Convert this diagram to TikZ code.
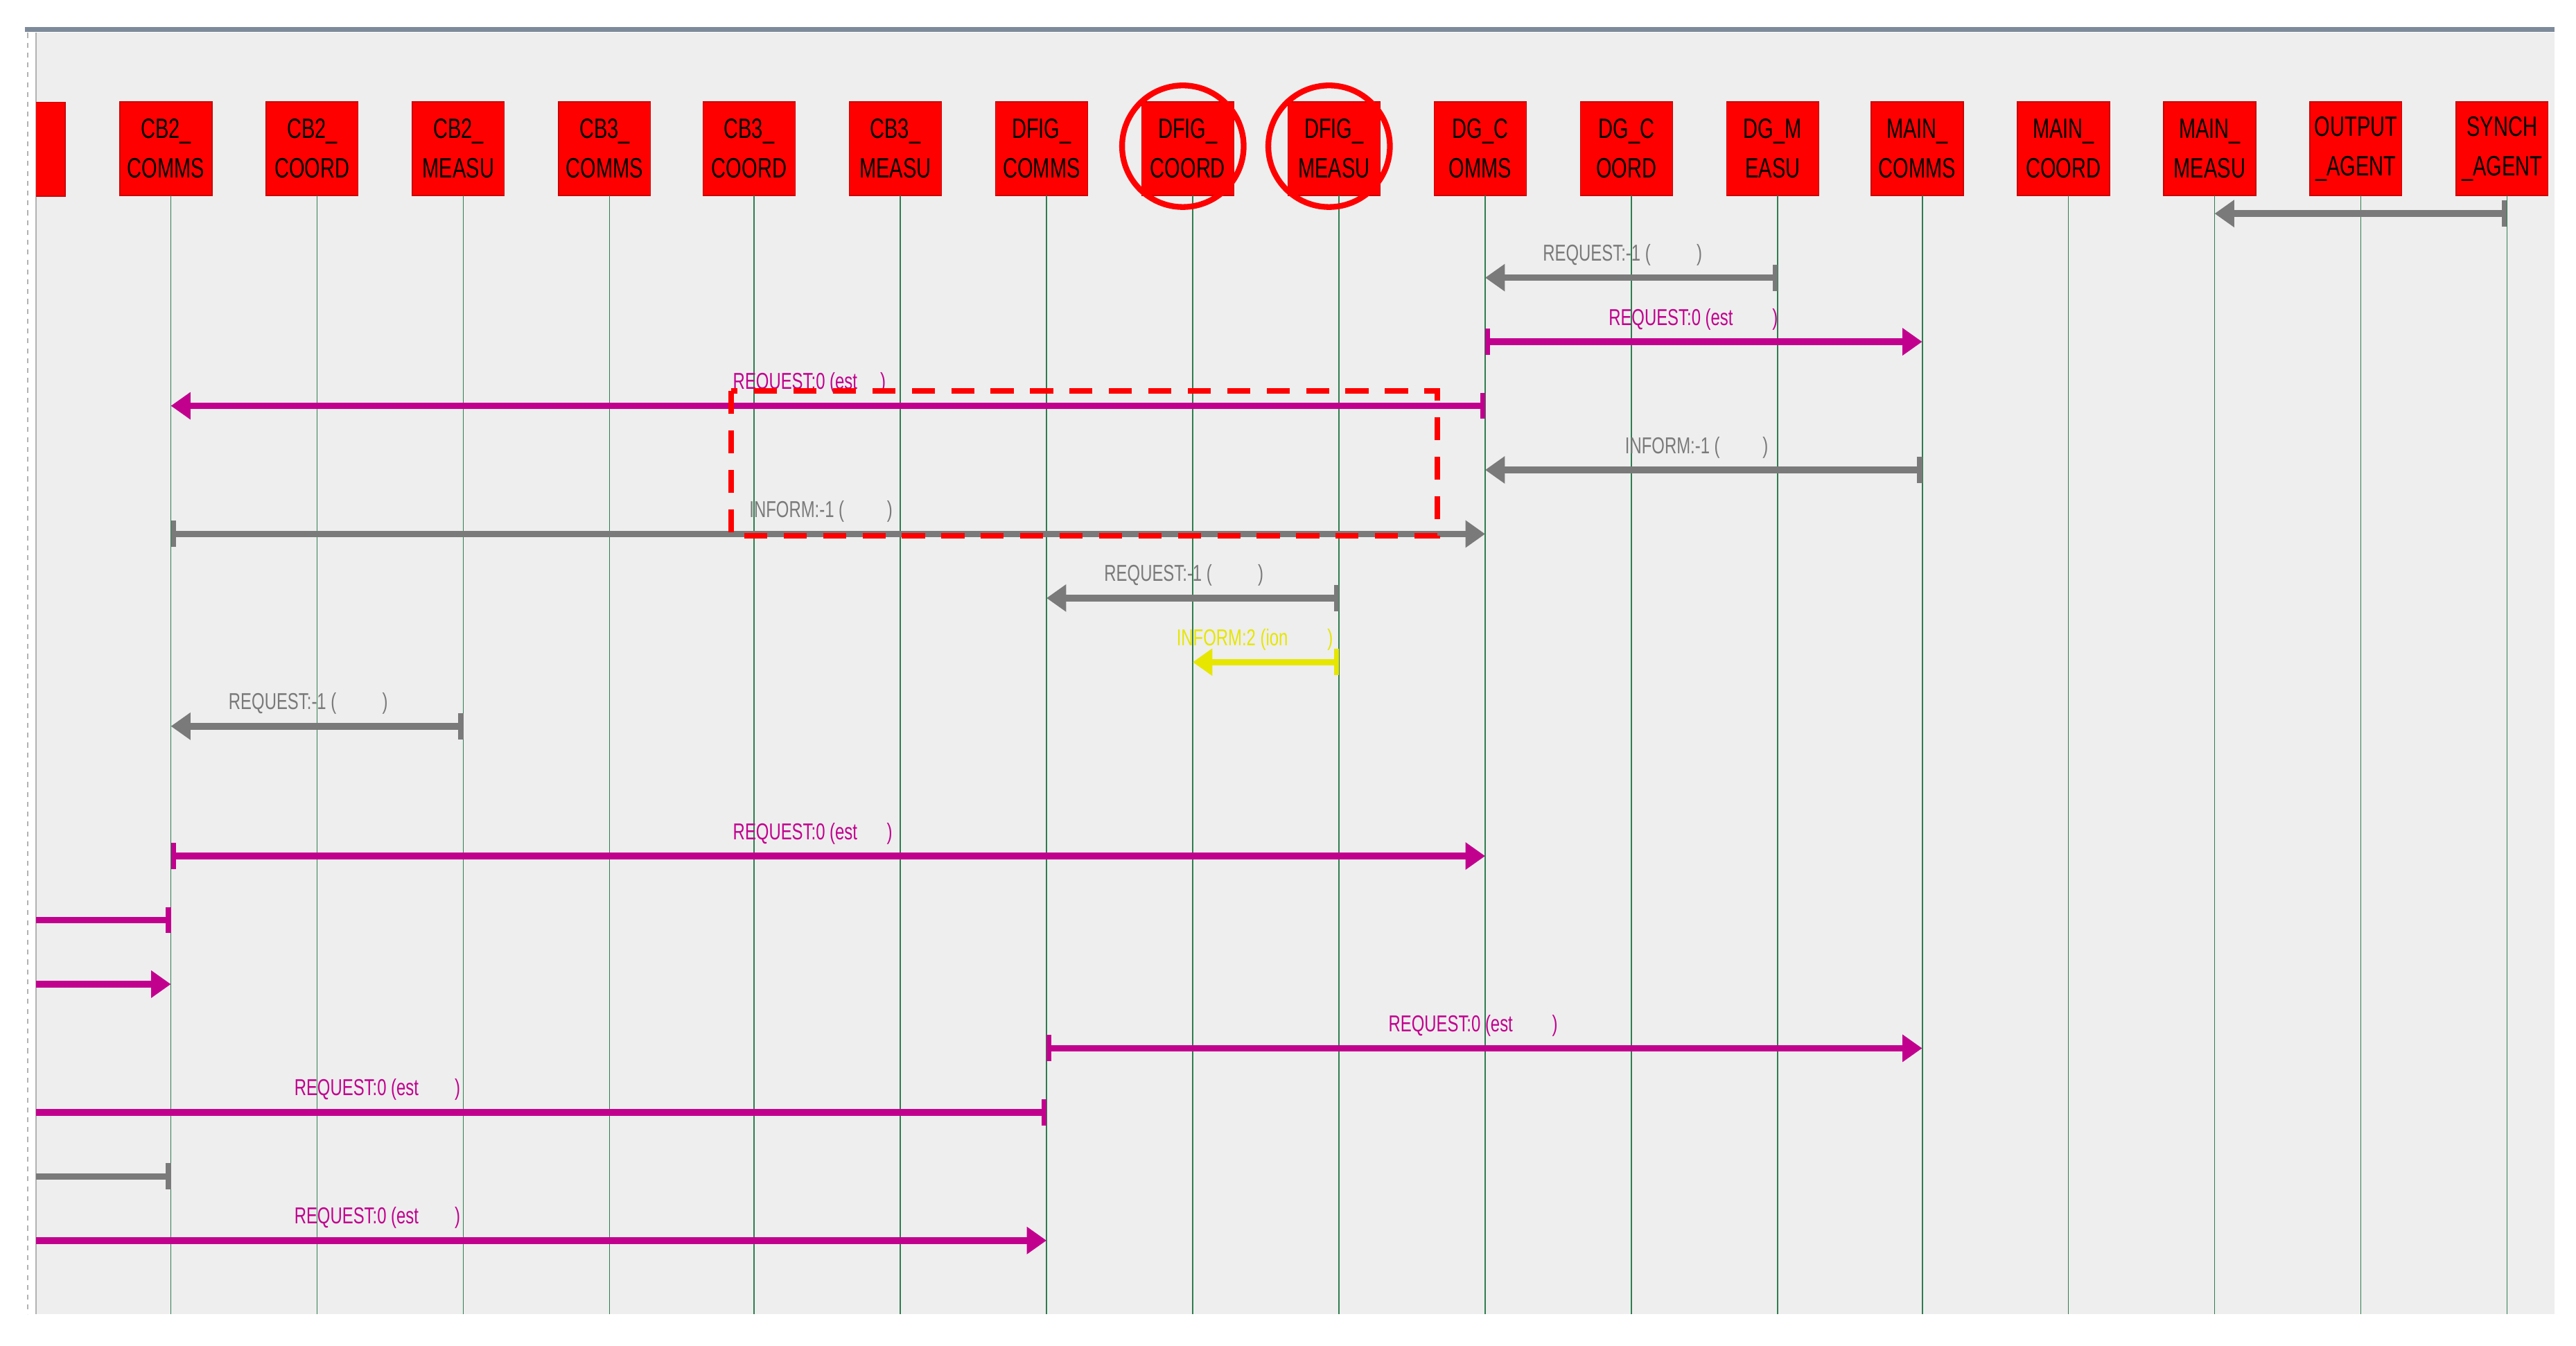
\documentclass[tikz,border=0pt]{standalone}
\usepackage{fontspec}
\setmainfont{Liberation Sans}
\newfontfamily\narrowf{Liberation Sans}[FakeStretch=0.72]
\usetikzlibrary{arrows.meta,shapes.geometric}
\definecolor{bgc}{HTML}{EEEEEE}
\definecolor{msgg}{HTML}{7A7A7A}
\definecolor{msgm}{HTML}{C2008E}
\definecolor{msgy}{HTML}{E6E600}
\definecolor{llc}{HTML}{2E7D4F}
\definecolor{frm}{HTML}{7D8A99}
\begin{document}
\begin{tikzpicture}[x=1pt,y=-1pt,
  box/.style={fill=red,draw=red!80!black,line width=0.6pt,minimum width=56pt,minimum height=57pt,inner sep=0pt,align=center,font=\narrowf\fontsize{17}{24}\selectfont},
  ll/.style={llc,line width=0.8pt},
  msg/.style={line width=4pt,-{Triangle[length=12pt,width=16pt]}},
  msgb/.style={line width=4pt,{Bar[width=16pt,line width=3pt]}-{Triangle[length=12pt,width=16pt]}},
  msgbo/.style={line width=4pt,{Bar[width=16pt,line width=3pt]}-},
  lab/.style={anchor=south west,inner sep=0pt,font=\narrowf\fontsize{14}{14}\selectfont},
  circ/.style={draw=red,line width=3.5pt,ellipse,minimum width=74pt,minimum height=74pt}]
\useasboundingbox (0,0) rectangle (1568,819);
\fill[white] (0,0) rectangle (1568,819);
\fill[bgc] (22,20) rectangle (1555,800);
\draw[frm,line width=3pt] (15,18) -- (1555,18);
\draw[gray!60,dashed,line width=1pt] (17,20) -- (17,800);
\draw[gray!60,line width=1pt] (22,20) -- (22,800);
\begin{scope}
\clip (22,20) rectangle (1555,800);
\node[box,anchor=north east] (P0) at (40,62) {\_\\U};
\end{scope}
\foreach \n/\t/\x in {CBa/CB2\_\\COMMS/104, CBb/CB2\_\\COORD/193, CBc/CB2\_\\MEASU/282,
  CCa/CB3\_\\COMMS/371, CCb/CB3\_\\COORD/459, CCc/CB3\_\\MEASU/548,
  DFa/DFIG\_\\COMMS/637, DFb/DFIG\_\\COORD/726, DFc/DFIG\_\\MEASU/815,
  DGa/DG\_C\\OMMS/904, DGb/DG\_C\\OORD/993, DGc/DG\_M\\EASU/1082,
  MNa/MAIN\_\\COMMS/1170, MNb/MAIN\_\\COORD/1259, MNc/MAIN\_\\MEASU/1348,
  OUT/OUTPUT\\\_AGENT/1437, SYN/SYNCH\\\_AGENT/1526}{
  \node[box] (\n) at (\x-3,90.5) {\t};
  \coordinate (\n-e) at (\x,800);
  \draw[ll] (\x,119) -- (\n-e);
}
\node[circ] (c1) at (720,89) {};
\node[circ] (c2) at (809,89) {};
\coordinate (LE) at (22,0);
\foreach \i/\y in {1/130,2/169,3/208,4/247,5/286,6/325,7/364,8/403,9/442,10/521,11/560,12/599,13/638,14/677,15/716,16/755}{\coordinate (m\i) at (0,\y);}
% messages
\draw[msgb,msgg] (SYN-e|-m1) -- (MNc-e|-m1);
\draw[msgb,msgg] (DGc-e|-m2) -- (DGa-e|-m2);
\node[lab,msgg] at (939,162) {REQUEST:-1 (\hspace{28pt})};
\draw[msgb,msgm] (DGa-e|-m3) -- (MNa-e|-m3);
\node[lab,msgm] at (979,201) {REQUEST:0 (est\hspace{24pt})};
\draw[msgb,msgm] (DGa-e|-m4) -- (CBa-e|-m4);
\node[lab,msgm] at (446,240) {REQUEST:0 (est\hspace{14pt})};
\draw[msgb,msgg] (MNa-e|-m5) -- (DGa-e|-m5);
\node[lab,msgg] at (989,279) {INFORM:-1 (\hspace{26pt})};
\draw[msgb,msgg] (CBa-e|-m6) -- (DGa-e|-m6);
\node[lab,msgg] at (456,318) {INFORM:-1 (\hspace{26pt})};
\draw[msgb,msgg] (DFc-e|-m7) -- (DFa-e|-m7);
\node[lab,msgg] at (672,357) {REQUEST:-1 (\hspace{28pt})};
\draw[msgb,msgy] (DFc-e|-m8) -- (DFb-e|-m8);
\node[lab,msgy] at (716,396) {INFORM:2 (ion\hspace{24pt})};
\draw[msgb,msgg] (CBc-e|-m9) -- (CBa-e|-m9);
\node[lab,msgg] at (139,435) {REQUEST:-1 (\hspace{28pt})};
\draw[msgb,msgm] (CBa-e|-m10) -- (DGa-e|-m10);
\node[lab,msgm] at (446,514) {REQUEST:0 (est\hspace{18pt})};
\draw[msgbo,msgm] (CBa-e|-m11) -- (LE|-m11);
\draw[msg,msgm] (LE|-m12) -- (CBa-e|-m12);
\draw[msgb,msgm] (DFa-e|-m13) -- (MNa-e|-m13);
\node[lab,msgm] at (845,631) {REQUEST:0 (est\hspace{24pt})};
\draw[msgbo,msgm] (DFa-e|-m14) -- (LE|-m14);
\node[lab,msgm] at (179,670) {REQUEST:0 (est\hspace{22pt})};
\draw[msgbo,msgg] (CBa-e|-m15) -- (LE|-m15);
\draw[msg,msgm] (LE|-m16) -- (DFa-e|-m16);
\node[lab,msgm] at (179,748) {REQUEST:0 (est\hspace{22pt})};
% highlight
\draw[red,line width=3.5pt,dash pattern=on 14pt off 10pt] (445,238) rectangle (875,326);
\end{tikzpicture}
\end{document}
